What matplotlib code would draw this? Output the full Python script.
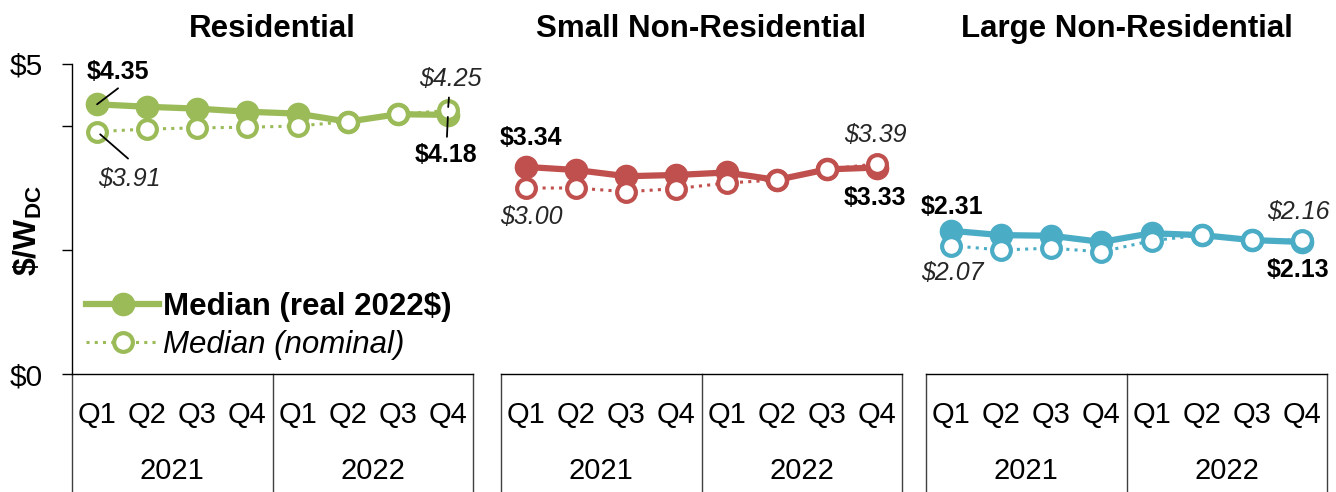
import matplotlib
matplotlib.use('Agg')
import matplotlib.pyplot as plt

# ---------------- data ----------------
quarters = ['Q1', 'Q2', 'Q3', 'Q4', 'Q1', 'Q2', 'Q3', 'Q4']
years = ['2021', '2022']
segments = ['Residential', 'Small Non-Residential', 'Large Non-Residential']

res_real = [4.35, 4.31, 4.28, 4.23, 4.20, 4.07, 4.19, 4.18]
res_nominal = [3.91, 3.95, 3.97, 3.98, 4.00, 4.07, 4.19, 4.25]
small_real = [3.34, 3.29, 3.19, 3.21, 3.25, 3.13, 3.30, 3.33]
small_nominal = [3.00, 3.00, 2.94, 2.99, 3.08, 3.13, 3.30, 3.39]
large_real = [2.31, 2.24, 2.23, 2.13, 2.27, 2.24, 2.16, 2.13]
large_nominal = [2.07, 2.00, 2.03, 1.97, 2.15, 2.24, 2.16, 2.16]

real_series = [res_real, small_real, large_real]
nominal_series = [res_nominal, small_nominal, large_nominal]
legend_labels = ['Median (real 2022$)', 'Median (nominal)']

# ---------------- style ----------------
colors = ['#9BBB59', '#C0504D', '#4BACC6']
plt.rcParams['font.family'] = ['Liberation Sans', 'DejaVu Sans']
plt.rcParams['mathtext.fontset'] = 'custom'
plt.rcParams['mathtext.rm'] = 'Liberation Sans'
plt.rcParams['mathtext.bf'] = 'Liberation Sans:bold'
plt.rcParams['mathtext.it'] = 'Liberation Sans:italic'

W, H = 1336, 492
fig = plt.figure(figsize=(W / 100, H / 100), dpi=100)
fig.patch.set_facecolor('white')

lefts = [72, 501, 926]
aw = 401
top, bottom = 64, 374
ah = bottom - top
depth = (H - bottom) / ah  # axes-fraction depth of category area

# label placement: (series, index, dx, dy)  -- pixel offsets of label centre
label_specs = [
    [('r', 0, 21, 32), ('n', 0, 32, -47), ('n', 7, 2, 31), ('r', 7, -2, -40)],
    [('r', 0, 5, 29), ('n', 0, 5, -29), ('n', 7, -2, 29), ('r', 7, -2, -30)],
    [('r', 0, 1, 24), ('n', 0, 1, -27), ('n', 7, -4, 28), ('r', 7, -4, -28)],
]
# leader lines (panel, series, index, far-end dx, dy in px, shrink at point in pt)
leader_specs = [
    (0, 'r', 0, 21, 16, 0),
    (0, 'n', 0, 31, -27, 3),
    (0, 'n', 7, 1, 13, 2.5),
    (0, 'r', 7, -1, -22, 1.5),
]

axes = []
for i, seg in enumerate(segments):
    ax = fig.add_axes([lefts[i] / W, (H - bottom) / H, aw / W, ah / H])
    axes.append(ax)
    c = colors[i]
    x = list(range(len(quarters)))
    real = real_series[i]
    nom = nominal_series[i]
    ax.plot(x, real, color=c, lw=4.5, marker='o', ms=16, mfc=c, mec=c,
            mew=1, solid_joinstyle='round', zorder=3, label=legend_labels[0],
            clip_on=False)
    ax.plot(x, nom, color=c, lw=2.2, ls=(0, (1, 1.7)), marker='o', ms=13.5,
            mfc='white', mec=c, mew=3, zorder=4, label=legend_labels[1],
            clip_on=False)
    ax.set_xlim(-0.5, len(quarters) - 0.5)
    ax.set_ylim(0, 5)

    ax.set_title(seg, fontsize=22.5, fontweight='bold', pad=19.5)

    for s in ['top', 'right']:
        ax.spines[s].set_visible(False)
    ax.spines['bottom'].set_linewidth(1.0)
    ax.spines['left'].set_linewidth(1.0)
    if i == 0:
        ax.set_yticks([0, 2, 4, 5])
        ax.set_yticklabels(['$0', '', '', '$5'])
        ax.tick_params(axis='y', length=7, width=1.0, pad=14, labelsize=21.5)
    else:
        ax.spines['left'].set_visible(False)
        ax.set_yticks([])

    ax.set_xticks(x)
    ax.set_xticklabels(quarters)
    ax.tick_params(axis='x', length=0, pad=19.5, labelsize=21)

    # category-axis grouping lines
    for xv in [-0.5, 3.5, 7.5]:
        ax.plot([xv, xv], [0, -depth], color='#404040', lw=1.0,
                transform=ax.get_xaxis_transform(), clip_on=False)
    for k, yr in enumerate(years):
        ax.text(1.5 + 4 * k, -(479 - bottom) / ah, yr, ha='center',
                va='baseline', fontsize=21,
                transform=ax.get_xaxis_transform())

    # data labels
    for (ser, idx, dx, dy) in label_specs[i]:
        vals = real if ser == 'r' else nom
        v = vals[idx]
        txt = f'${v:.2f}'
        kw = dict(fontweight='bold') if ser == 'r' else dict(fontstyle='italic', color='#262626')
        ax.annotate(txt, xy=(idx, v), xytext=(dx, dy), textcoords='offset pixels',
                    ha='center', va='center', fontsize=18, zorder=6, **kw)

# leader lines
for (p, ser, idx, dx, dy, sB) in leader_specs:
    vals = real_series[p] if ser == 'r' else nominal_series[p]
    axes[p].annotate('', xy=(idx, vals[idx]), xytext=(dx, dy),
                     textcoords='offset pixels', zorder=7,
                     arrowprops=dict(arrowstyle='-', color='black', lw=1.3,
                                     shrinkA=0, shrinkB=sB))

# legend in first panel
leg = axes[0].legend(loc='upper left',
                     bbox_to_anchor=((86 - 72) / aw, (bottom - 292) / ah),
                     frameon=False, fontsize=22.5, handlelength=2.35,
                     handletextpad=0.12, labelspacing=0.26, borderpad=0,
                     borderaxespad=0)
leg.get_texts()[0].set_fontweight('bold')
leg.get_texts()[1].set_fontstyle('italic')

fig.text(28 / W, 1 - 231 / H, r'\$/W$_{\mathbf{DC}}$', rotation=90,
         fontsize=23, fontweight='bold', ha='center', va='center')

fig.savefig('out.png', dpi=100, facecolor='white')
